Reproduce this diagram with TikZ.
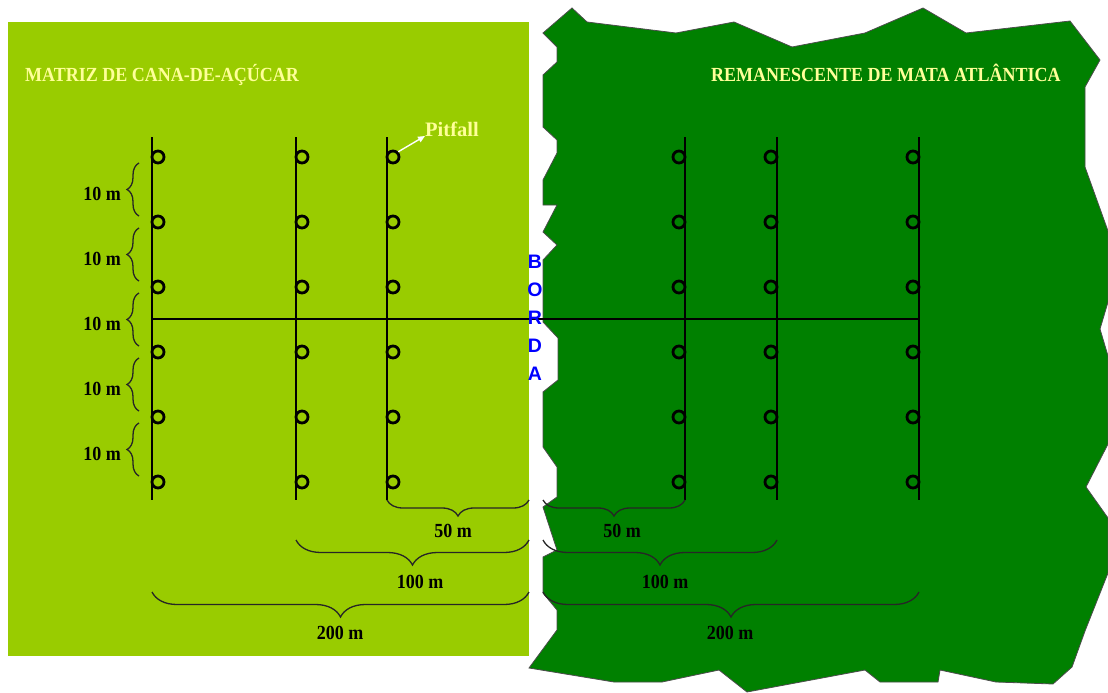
\documentclass[tikz,border=0pt]{standalone}
\usepackage{fontspec}
\usetikzlibrary{decorations.pathreplacing,arrows.meta}
\newfontfamily\mapfont[FakeStretch=0.9]{Liberation Serif}
\newfontfamily\pitfont{Liberation Serif}
\newfontfamily\edgefont{Liberation Sans}
\definecolor{caneGreen}{HTML}{99CC00}
\definecolor{forestGreen}{HTML}{008000}
\definecolor{titleYellow}{HTML}{FFFF99}
\definecolor{edgeBlue}{HTML}{0000FF}
\begin{document}
\begin{tikzpicture}
[x=1pt,y=-1pt,
  lineDecorate/.style={-,line width=1.6pt,black},
  trapDecorate/.style={shape=circle,minimum size=12pt,inner sep=0pt,draw,line width=2.8pt},
  braceDecorate/.style={decorate,decoration={brace,mirror,amplitude=#1},line width=1.3pt,black!85},
  braceDecorate/.default=25,
  labelDecorate/.style={inner sep=0pt,font=\mapfont\bfseries\fontsize{20}{24}\selectfont},
  titleDecorate/.style={labelDecorate,anchor=base west,text=titleYellow},
  edgeDecorate/.style={inner sep=0pt,text=edgeBlue,font=\edgefont\bfseries\fontsize{19.5}{22}\selectfont},
  pointerDecorate/.style={white,line width=1.4pt,-{Triangle[length=7pt,width=6pt]}}]
\useasboundingbox (0,0) rectangle (1108,693);
%% areas
\fill[caneGreen] (8,22) rectangle (529,656);
\filldraw[fill=forestGreen,draw=black!70,line width=0.8pt]
  (572,8) -- (587,22) -- (676,33) -- (734,22) -- (792,47) -- (865,33) -- (923,8)
  -- (966,33) -- (1070,21) -- (1100,60) -- (1085,87) -- (1085,167) -- (1108,231)
  -- (1108,302) -- (1100,329) -- (1108,356) -- (1108,444) -- (1086,487) -- (1108,518)
  -- (1108,573) -- (1085,631) -- (1072,667) -- (1053,684) -- (996,682) -- (940,670)
  -- (938,682) -- (880,682) -- (865,670) -- (747,692) -- (719,670) -- (662,682)
  -- (614,682) -- (529,668) -- (557,630) -- (557,610) -- (543,593) -- (543,557)
  -- (557,550) -- (543,507) -- (557,497) -- (557,467) -- (543,447) -- (543,392)
  -- (558,380) -- (558,338) -- (543,322) -- (543,260) -- (557,245) -- (543,232)
  -- (557,205) -- (543,205) -- (543,180) -- (557,153) -- (557,140) -- (543,127)
  -- (543,75) -- (557,62) -- (557,47) -- (543,33) -- cycle;
\node (cane) at (25,81.7) [titleDecorate] {MATRIZ DE CANA-DE-AÇÚCAR};
\node (forest) at (711,81.7) [titleDecorate] {REMANESCENTE DE MATA ATLÂNTICA};
%% transects
\foreach \name/\x in {a/152,b/296,c/387,d/685,e/777,f/919}
{
  \coordinate (top\name) at (\x,137);
  \coordinate (mid\name) at (\x,319);
  \coordinate (bot\name) at (\x,500);
  \draw[lineDecorate] (top\name) -- (bot\name);
}
\draw[lineDecorate] (mida) -- (midf);
%% pitfall traps
\foreach \name/\x in {a/158,b/302,c/393,d/679,e/771,f/913}
  \foreach \row/\y in {1/157,2/222,3/287,4/352,5/417,6/482}
  {
    \node (\name\row) at (\x,\y) [trapDecorate] {};
  }
\node (pitfall) at (425,136) [anchor=base west,inner sep=0pt,text=titleYellow,
  font=\pitfont\bfseries\fontsize{20.5}{24}\selectfont] {Pitfall};
\draw[pointerDecorate] (c1.north east) -- (pitfall.base west);
%% border
\foreach \letter/\y [count=\i] in {B/262,O/290,R/318,D/346,A/374}
{
  \node (borda\i) at (535,\y) [edgeDecorate] {\letter};
}
%% distances between traps
\foreach \row/\y in {1/157,2/222,3/287,4/352,5/417}
{
  \coordinate (vtop\row) at (139,\y+6);
  \coordinate (vbot\row) at (139,\y+59);
  \draw[braceDecorate=12] (vtop\row) -- (vbot\row);
  \node (dist\row) at (102,\y+36.5) [labelDecorate] {10 m};
}
%% distances from the border
\foreach \dist/\y/\amp/\lft/\rgt in {50/500/16/387/685,100/540/25/296/777,200/592/25/152/919}
{
  \coordinate (caneL\dist) at (\lft,\y);
  \coordinate (caneR\dist) at (529,\y);
  \coordinate (forestL\dist) at (543,\y);
  \coordinate (forestR\dist) at (\rgt,\y);
  \draw[braceDecorate=\amp] (caneL\dist) -- (caneR\dist);
  \draw[braceDecorate=\amp] (forestL\dist) -- (forestR\dist);
}
\foreach \name/\x/\y/\lbl in {cane50/453/531/50 m,forest50/622/531/50 m,
  cane100/420/582/100 m,forest100/665/582/100 m,
  cane200/340/633/200 m,forest200/730/633/200 m}
{
  \node (\name) at (\x,\y) [labelDecorate] {\lbl};
}
\end{tikzpicture}
\end{document}
